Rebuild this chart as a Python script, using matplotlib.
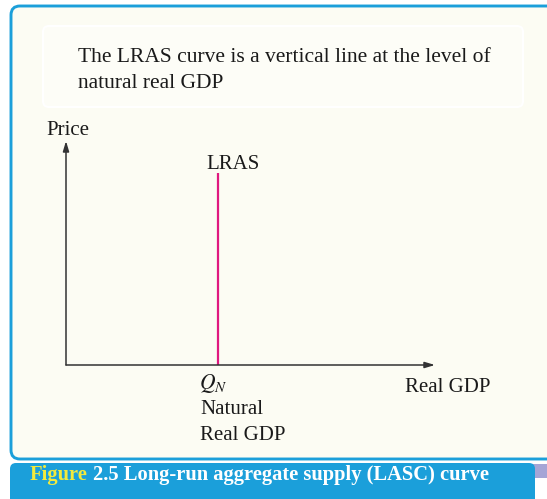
import matplotlib.pyplot as plt
from matplotlib.patches import FancyBboxPatch, Rectangle

# chart values (axes run 0..1 on both sides)
qn = 0.412          # natural real GDP on the x axis
lras_top = 0.857    # top end of the LRAS line
axis_end = 1.0

note_lines = ['The LRAS curve is a vertical line at the level of', 'natural real GDP']
caption_head = 'Figure'
caption_rest = '2.5 Long-run aggregate supply (LASC) curve'

plt.rcParams['font.family'] = ['Liberation Serif', 'DejaVu Serif']
plt.rcParams['mathtext.fontset'] = 'stix'

cream = '#fcfcf3'
blue = '#1b9fda'
ink = '#1a1a1a'

fig = plt.figure(figsize=(5.47, 4.99), dpi=100)
fig.patch.set_facecolor('white')

# pixel overlay for the frame, boxes and text
bg = fig.add_axes([0, 0, 1, 1])
bg.set_xlim(0, 547)
bg.set_ylim(499, 0)
bg.axis('off')

# outer frame
bg.add_patch(FancyBboxPatch((11, 6), 560, 453, boxstyle='round,pad=0,rounding_size=9',
                            facecolor=cream, edgecolor=blue, linewidth=2.1))
# inner note box
bg.add_patch(FancyBboxPatch((43, 26), 480, 81, boxstyle='round,pad=0,rounding_size=6',
                            facecolor='#fdfdf7', edgecolor='white', linewidth=1.5))
bg.text(78, 62, note_lines[0], fontsize=15.5, va='baseline', color=ink)
bg.text(78, 88, note_lines[1], fontsize=15.5, va='baseline', color=ink)

# caption banner with small shadow
bg.add_patch(Rectangle((528, 464), 19, 14, facecolor='#8f8fcc', edgecolor='none', alpha=0.8))
bg.add_patch(FancyBboxPatch((10, 463), 525, 50, boxstyle='round,pad=0,rounding_size=6',
                            facecolor=blue, edgecolor='none'))
head = bg.text(30, 480, caption_head, fontsize=14.8, fontweight='bold', color='#f3ea3c',
               va='baseline')
fig.canvas.draw()
head_w = head.get_window_extent().width
bg.text(30 + head_w + 5, 480, caption_rest, fontsize=14.8, fontweight='bold', color='white',
        va='baseline')

# axis labels
bg.text(46, 135, 'Price', fontsize=15, va='baseline', color=ink)
bg.text(233, 169, 'LRAS', fontsize=15, va='baseline', ha='center', color=ink)
bg.text(199, 389, r'$Q_N$', fontsize=15.5, va='baseline', color=ink)
bg.text(200, 414, 'Natural', fontsize=15, va='baseline', color=ink)
bg.text(200, 440, 'Real GDP', fontsize=15, va='baseline', color=ink)
bg.text(405, 392, 'Real GDP', fontsize=15, va='baseline', color=ink)

# chart axes
ax = fig.add_axes([66 / 547, (499 - 365) / 499, 369 / 547, 224 / 499])
ax.set_xlim(0, axis_end)
ax.set_ylim(0, axis_end)
ax.axis('off')
ax.patch.set_alpha(0)

arrow = dict(arrowstyle='-|>,head_length=0.6,head_width=0.18', color='#333333',
             lw=1.1, shrinkA=0, shrinkB=0)
ax.annotate('', xy=(axis_end, 0), xytext=(0, 0), arrowprops=arrow, annotation_clip=False)
ax.annotate('', xy=(0, axis_end), xytext=(0, 0), arrowprops=arrow, annotation_clip=False)

ax.plot([qn, qn], [0, lras_top], color='#e0197f', lw=1.6, solid_capstyle='butt')

fig.savefig('out.png', dpi=100)
